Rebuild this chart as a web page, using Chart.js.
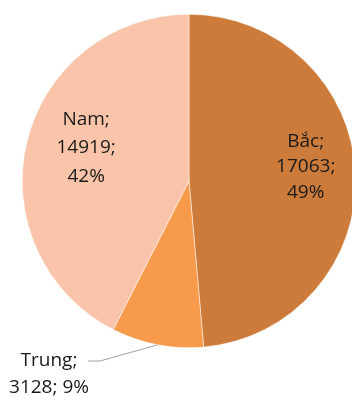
<!DOCTYPE html>
<html>
<head>
<meta charset="utf-8">
<script src="https://cdn.jsdelivr.net/npm/chart.js@4"></script>
<style>
    html, body { margin: 0; padding: 0; background: #fff; overflow: hidden; }
    #wrap { position: relative; width: 352px; height: 396px; overflow: hidden; }
    #wrap canvas { position: absolute; left: 0; top: 0; }
</style>
</head>
<body>
<div id="wrap"><canvas id="pie-chart" width="378" height="396"></canvas></div>
<script>
// Données du graphique
const regions = ['Bắc', 'Trung', 'Nam'];
const counts = [17063, 3128, 14919];
const percents = ['49%', '9%', '42%'];
const colors = ['#CD7B3A', '#F79A4B', '#F9C4A9'];

// Plugin pour les étiquettes (position relative au rayon)
const labelPlugin = {
    id: 'sliceLabels',
    afterDatasetsDraw(chart) {
        const ctx = chart.ctx;
        const arcs = chart.getDatasetMeta(0).data;
        const cx = arcs[0].x, cy = arcs[0].y, r = arcs[0].outerRadius;
        ctx.save();
        ctx.font = '19px "Open Sans", sans-serif';
        ctx.fillStyle = '#1a1a1a';
        ctx.textAlign = 'center';
        ctx.textBaseline = 'alphabetic';

        // Bắc
        let lines = [regions[0] + ';', counts[0] + ';', percents[0]];
        let x = cx + 0.70 * r, y = cy - 0.051 * r;
        lines.forEach((t, i) => ctx.fillText(t, x, y + (i - 1) * 25.7));

        // Nam
        lines = [regions[2] + ';', counts[2] + ';', percents[2]];
        x = cx - 0.617 * r; y = cy - 0.165 * r;
        lines.forEach((t, i) => ctx.fillText(t, x, y + (i - 1) * 28.5));

        // Trung, avec ligne de rappel
        x = 49;
        ctx.fillText(regions[1] + ';', x, 366);
        ctx.fillText(counts[1] + '; ' + percents[1], x, 393);
        ctx.strokeStyle = '#a6a6a6';
        ctx.lineWidth = 1.2;
        ctx.beginPath();
        ctx.moveTo(88, 361);
        ctx.lineTo(100, 361);
        ctx.lineTo(157, 345);
        ctx.stroke();
        ctx.restore();
    }
};

new Chart(document.getElementById('pie-chart').getContext('2d'), {
    type: 'pie',
    data: {
        labels: regions,
        datasets: [{
            data: counts,
            backgroundColor: colors,
            borderColor: '#ffffff',
            borderWidth: 0.5
        }]
    },
    options: {
        responsive: false,
        animation: false,
        layout: { padding: { top: 14, bottom: 48, left: 21, right: 21 } },
        plugins: {
            legend: { display: false },
            tooltip: { enabled: false }
        }
    },
    plugins: [labelPlugin]
});
</script>
</body>
</html>
